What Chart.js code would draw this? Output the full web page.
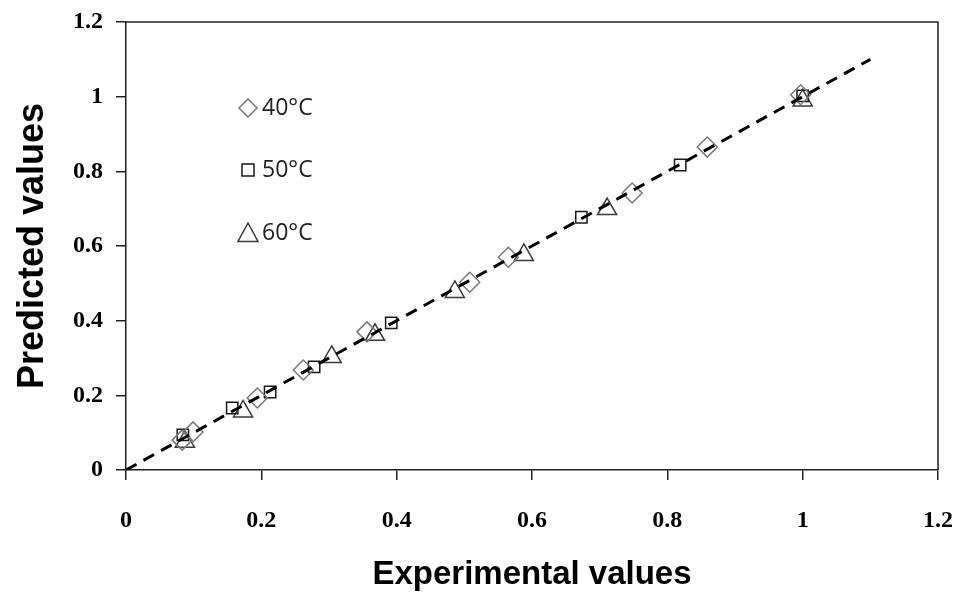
<!DOCTYPE html>
<html>
<head>
<meta charset="utf-8">
<script src="https://cdn.jsdelivr.net/npm/chart.js@4/dist/chart.umd.min.js"></script>
<style>
  html, body { margin: 0; padding: 0; background: #fff; }
  #wrap { width: 956px; height: 592px; }
</style>
</head>
<body>
<div id="wrap"><canvas id="fit"></canvas></div>
<script>
// ── data ──────────────────────────────────────────────────
const axisTicks = [0, 0.2, 0.4, 0.6, 0.8, 1, 1.2];

const exp40  = [0.083, 0.099, 0.194, 0.262, 0.356, 0.508, 0.565, 0.748, 0.859, 0.997];
const pred40 = [0.080, 0.102, 0.193, 0.268, 0.370, 0.503, 0.570, 0.742, 0.865, 1.005];

const exp50  = [0.084, 0.157, 0.213, 0.278, 0.392, 0.673, 0.819, 1.000];
const pred50 = [0.094, 0.166, 0.209, 0.276, 0.394, 0.677, 0.817, 1.002];

const exp60  = [0.087, 0.173, 0.304, 0.368, 0.486, 0.588, 0.711, 1.000];
const pred60 = [0.076, 0.157, 0.303, 0.362, 0.477, 0.576, 0.699, 0.990];

const fitX = [0, 1.1];
const fitY = [0, 1.1];

const seriesLabels = ['40°C', '50°C', '60°C'];

function pairs(xs, ys) {
  return xs.map((x, i) => ({ x: x, y: ys[i] }));
}

// legend drawn inside the plot, top-left, like the original
const legendInPlot = {
  id: 'legendInPlot',
  afterDraw(chart) {
    const ctx = chart.ctx;
    const items = [
      { style: 'rectRot', r: 9,  color: '#7a7a7a', y: 108 },
      { style: 'rect',    r: 6,  color: '#1a1a1a', y: 170 },
      { style: 'triangle', r: 10, color: '#3a3a3a', y: 233 }
    ];
    const mx = 248;
    ctx.save();
    ctx.lineWidth = 1.5;
    items.forEach((it, i) => {
      ctx.strokeStyle = it.color;
      ctx.beginPath();
      if (it.style === 'rectRot') {
        ctx.moveTo(mx, it.y - it.r);
        ctx.lineTo(mx + it.r, it.y);
        ctx.lineTo(mx, it.y + it.r);
        ctx.lineTo(mx - it.r, it.y);
        ctx.closePath();
      } else if (it.style === 'rect') {
        ctx.rect(mx - it.r, it.y - it.r, it.r * 2, it.r * 2);
      } else {
        ctx.moveTo(mx, it.y - it.r);
        ctx.lineTo(mx + it.r, it.y + it.r * 0.85);
        ctx.lineTo(mx - it.r, it.y + it.r * 0.85);
        ctx.closePath();
      }
      ctx.stroke();
      ctx.fillStyle = '#222';
      ctx.font = '23px "Open Sans"';
      ctx.textBaseline = 'middle';
      ctx.fillText(seriesLabels[i], 262, it.y);
    });
    ctx.restore();
  }
};

// top and right frame lines
const frame = {
  id: 'frame',
  beforeDatasetsDraw(chart) {
    const { ctx, chartArea: a } = chart;
    ctx.save();
    ctx.strokeStyle = '#222';
    ctx.lineWidth = 1.5;
    ctx.beginPath();
    ctx.moveTo(a.left, a.top);
    ctx.lineTo(a.right, a.top);
    ctx.lineTo(a.right, a.bottom);
    ctx.stroke();
    ctx.restore();
  }
};

function axisOptions(titleText, pos) {
  const left = pos === 'left';
  return {
    type: 'linear',
    position: pos,
    min: 0,
    max: 1.2,
    afterBuildTicks: s => { s.ticks = axisTicks.map(v => ({ value: v })); },
    afterFit: s => {
      if (left) s.width = 126;
      else s.height = 122;
      // keep the plot box where the original has it
      s.paddingLeft = 0; s.paddingRight = 0;
      s.paddingTop = 0; s.paddingBottom = 0;
    },
    grid: {
      drawOnChartArea: false,
      drawTicks: true,
      tickLength: 10,
      color: '#222',
      lineWidth: 1.5
    },
    border: { display: true, color: '#222', width: 1.5 },
    ticks: {
      color: '#000',
      padding: left ? 13 : 26,
      font: { family: '"Liberation Serif"', weight: 'bold', size: 24 },
      callback: v => String(+v.toFixed(1))
    },
    title: {
      display: true,
      text: titleText,
      color: '#000',
      font: { family: '"Liberation Sans"', weight: 'bold', size: left ? 36 : 33 },
      padding: left ? { top: 11, bottom: 0 } : { top: 0, bottom: -3 }
    }
  };
}

const ctx = document.getElementById('fit').getContext('2d');
new Chart(ctx, {
  type: 'scatter',
  data: {
    datasets: [
      {
        type: 'line',
        data: pairs(fitX, fitY),
        borderColor: '#000',
        borderWidth: 3,
        borderDash: [12, 8],
        pointRadius: 0,
        fill: false,
        order: 0
      },
      {
        label: seriesLabels[0],
        data: pairs(exp40, pred40),
        pointStyle: 'rectRot',
        pointRadius: 10,
        borderColor: '#7a7a7a',
        backgroundColor: 'transparent',
        borderWidth: 1.5,
        order: 1
      },
      {
        label: seriesLabels[1],
        data: pairs(exp50, pred50),
        pointStyle: 'rect',
        pointRadius: 8,
        borderColor: '#1a1a1a',
        backgroundColor: 'transparent',
        borderWidth: 1.5,
        order: 1
      },
      {
        label: seriesLabels[2],
        data: pairs(exp60, pred60),
        pointStyle: 'triangle',
        pointRadius: 11,
        borderColor: '#3a3a3a',
        backgroundColor: 'transparent',
        borderWidth: 1.5,
        order: 1
      }
    ]
  },
  options: {
    responsive: true,
    maintainAspectRatio: false,
    animation: false,
    layout: { padding: { top: 22, right: 18, left: 0, bottom: 0 } },
    plugins: {
      legend: { display: false },
      tooltip: { enabled: false }
    },
    scales: {
      x: axisOptions('Experimental values', 'bottom'),
      y: axisOptions('Predicted values', 'left')
    }
  },
  plugins: [frame, legendInPlot]
});
</script>
</body>
</html>
